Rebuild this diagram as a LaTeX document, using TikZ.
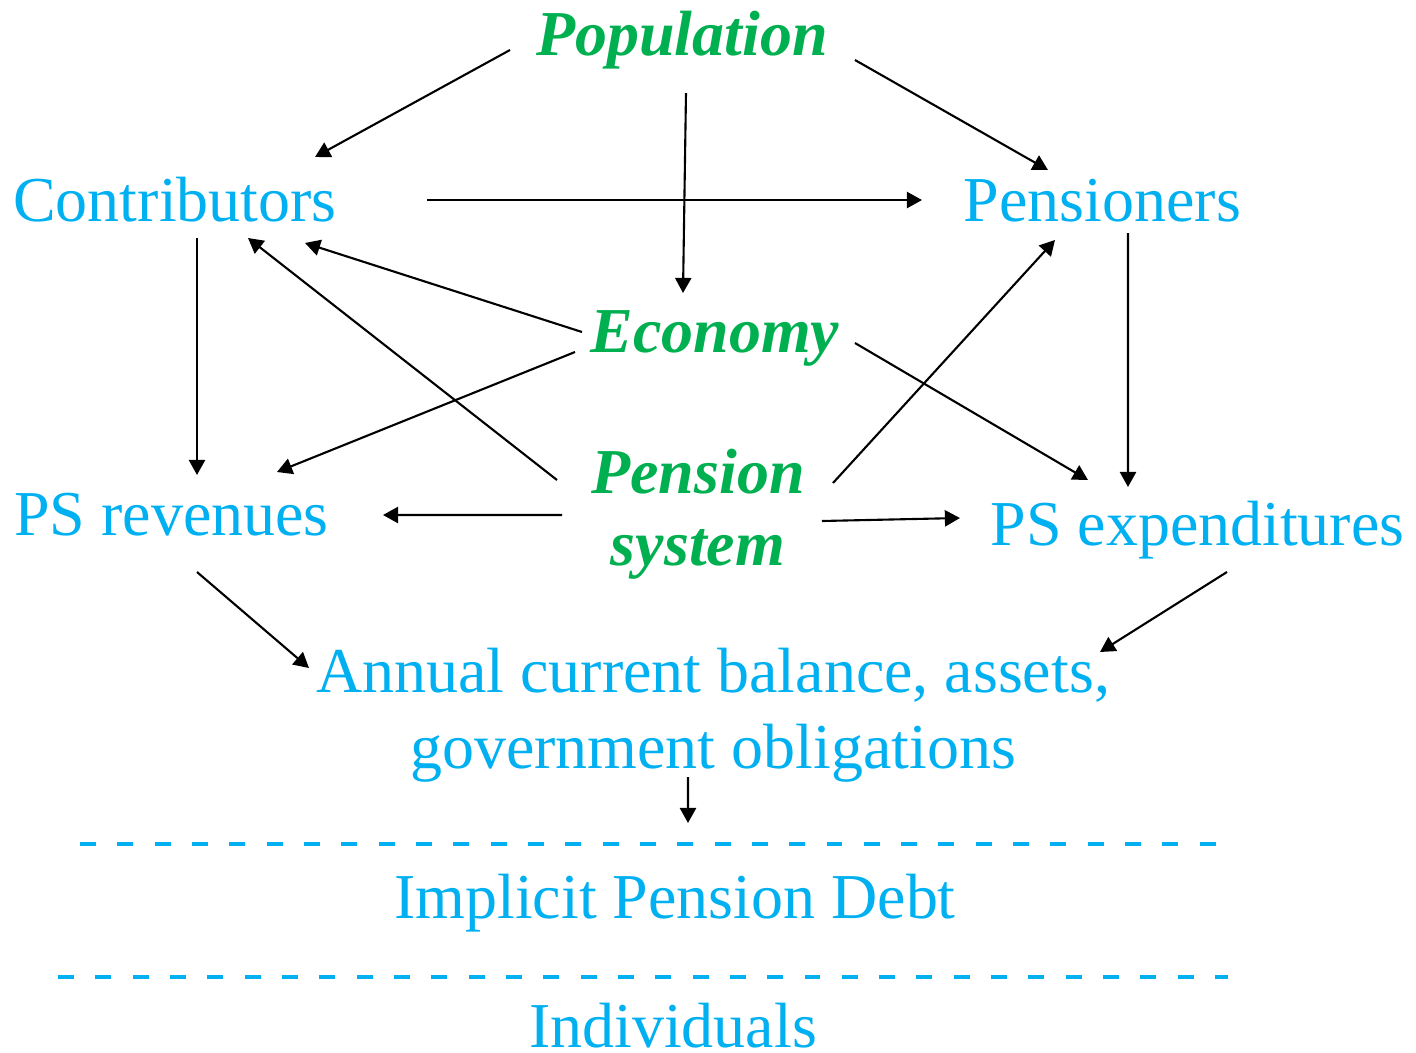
\documentclass[tikz,border=0pt]{standalone}
\usepackage{fontspec}
\setmainfont{Liberation Serif}
\usepackage{tikz}
\usetikzlibrary{arrows.meta,calc,positioning}
\definecolor{psblue}{RGB}{0,176,240}
\definecolor{psgreen}{RGB}{0,176,80}
\tikzset{%
item/.style={text=psblue, inner sep=0pt, outer sep=0pt, font=\fontsize{18.2}{21.5}\selectfont},
driver/.style={item, text=psgreen, font=\fontsize{18.2}{20.5}\selectfont\bfseries\itshape},
link/.style={-{Triangle[length=4.3pt,width=4.6pt]}, line width=0.6pt},
levelline/.style={psblue, line width=1.3pt, dash pattern=on 4.55pt off 6.07pt}
}

\begin{document}
\begin{tikzpicture}
\useasboundingbox (0,0) rectangle (14.16,-10.53);

% driving factors
\node[driver, anchor=base] (pop) at (6.82,-0.55) {Population};
\node[driver, anchor=base] (econ) at (7.15,-3.52) {Economy};
\node[driver, align=center] (psys) at (6.98,-5.145) {Pension\\system};

% pension system quantities
\node[item, anchor=base] (contrib) at (1.75,-2.21) {Contributors};
\node[item, anchor=base] (pens) at (11.025,-2.21) {Pensioners};
\node[item, anchor=base] (psrev) at (1.715,-5.35) {PS revenues};
\node[item, anchor=base] (psexp) at (11.975,-5.45) {PS expenditures};
\node[item, align=center] (annual) at (7.13,-7.15) {Annual current balance, assets,\\government obligations};
\node[item, anchor=base] (ipd) at (6.75,-9.18) {Implicit Pension Debt};
\node[item, anchor=base] (indiv) at (6.73,-10.47) {Individuals};

% level separators
\coordinate (sepAw) at (0.80,-8.44);
\coordinate (sepAe) at (12.16,-8.44);
\coordinate (sepBw) at (0.58,-9.77);
\coordinate (sepBe) at (12.28,-9.77);
\coordinate (ipdin) at (6.88,-8.23);
\draw[levelline] (sepAw) -- (sepAe);
\draw[levelline] (sepBw) -- (sepBe);

% population
\draw[link] ([shift={(-1.72,0.05)}]pop.base) -- ([shift={(1.40,0.64)}]contrib.base);
\draw[link] ([shift={(1.73,-0.05)}]pop.base) -- ([shift={(-0.545,0.51)}]pens.base);
\draw[link] ([shift={(0.04,-0.38)}]pop.base) -- ([shift={(-0.32,0.59)}]econ.base);

\draw[link] ([shift={(2.52,0.21)}]contrib.base) -- ([shift={(-1.805,0.21)}]pens.base);
\draw[link] ([shift={(0.22,-0.17)}]contrib.base) -- ([shift={(0.255,0.60)}]psrev.base);
\draw[link] ([shift={(0.255,-0.12)}]pens.base) -- ([shift={(-0.695,0.58)}]psexp.base);

% economy
\draw[link] ([shift={(-1.33,0.20)}]econ.base) -- ([shift={(1.30,-0.22)}]contrib.base);
\draw[link] ([shift={(-1.40,0)}]econ.base) -- ([shift={(1.055,0.63)}]psrev.base);
\draw[link] ([shift={(1.40,0.09)}]econ.base) -- ([shift={(-1.095,0.65)}]psexp.base);

% pension system
\draw[link] ([shift={(-1.41,0.345)}]psys.center) -- ([shift={(0.73,-0.17)}]contrib.base);
\draw[link] ([shift={(1.35,0.315)}]psys.center) -- ([shift={(-0.475,-0.19)}]pens.base);
\draw[link] ([shift={(-1.36,-0.005)}]psys.center) -- ([shift={(2.115,0.20)}]psrev.base);
\draw[link] ([shift={(1.24,-0.065)}]psys.center) -- ([shift={(-2.375,0.27)}]psexp.base);

% balance
\draw[link] ([shift={(0.255,-0.37)}]psrev.base) -- ([shift={(-4.04,0.47)}]annual.center);
\draw[link] ([shift={(0.295,-0.27)}]psexp.base) -- ([shift={(3.87,0.63)}]annual.center);
\draw[link] ([shift={(-0.25,-0.62)}]annual.center) -- (ipdin);

\end{tikzpicture}
\end{document}
